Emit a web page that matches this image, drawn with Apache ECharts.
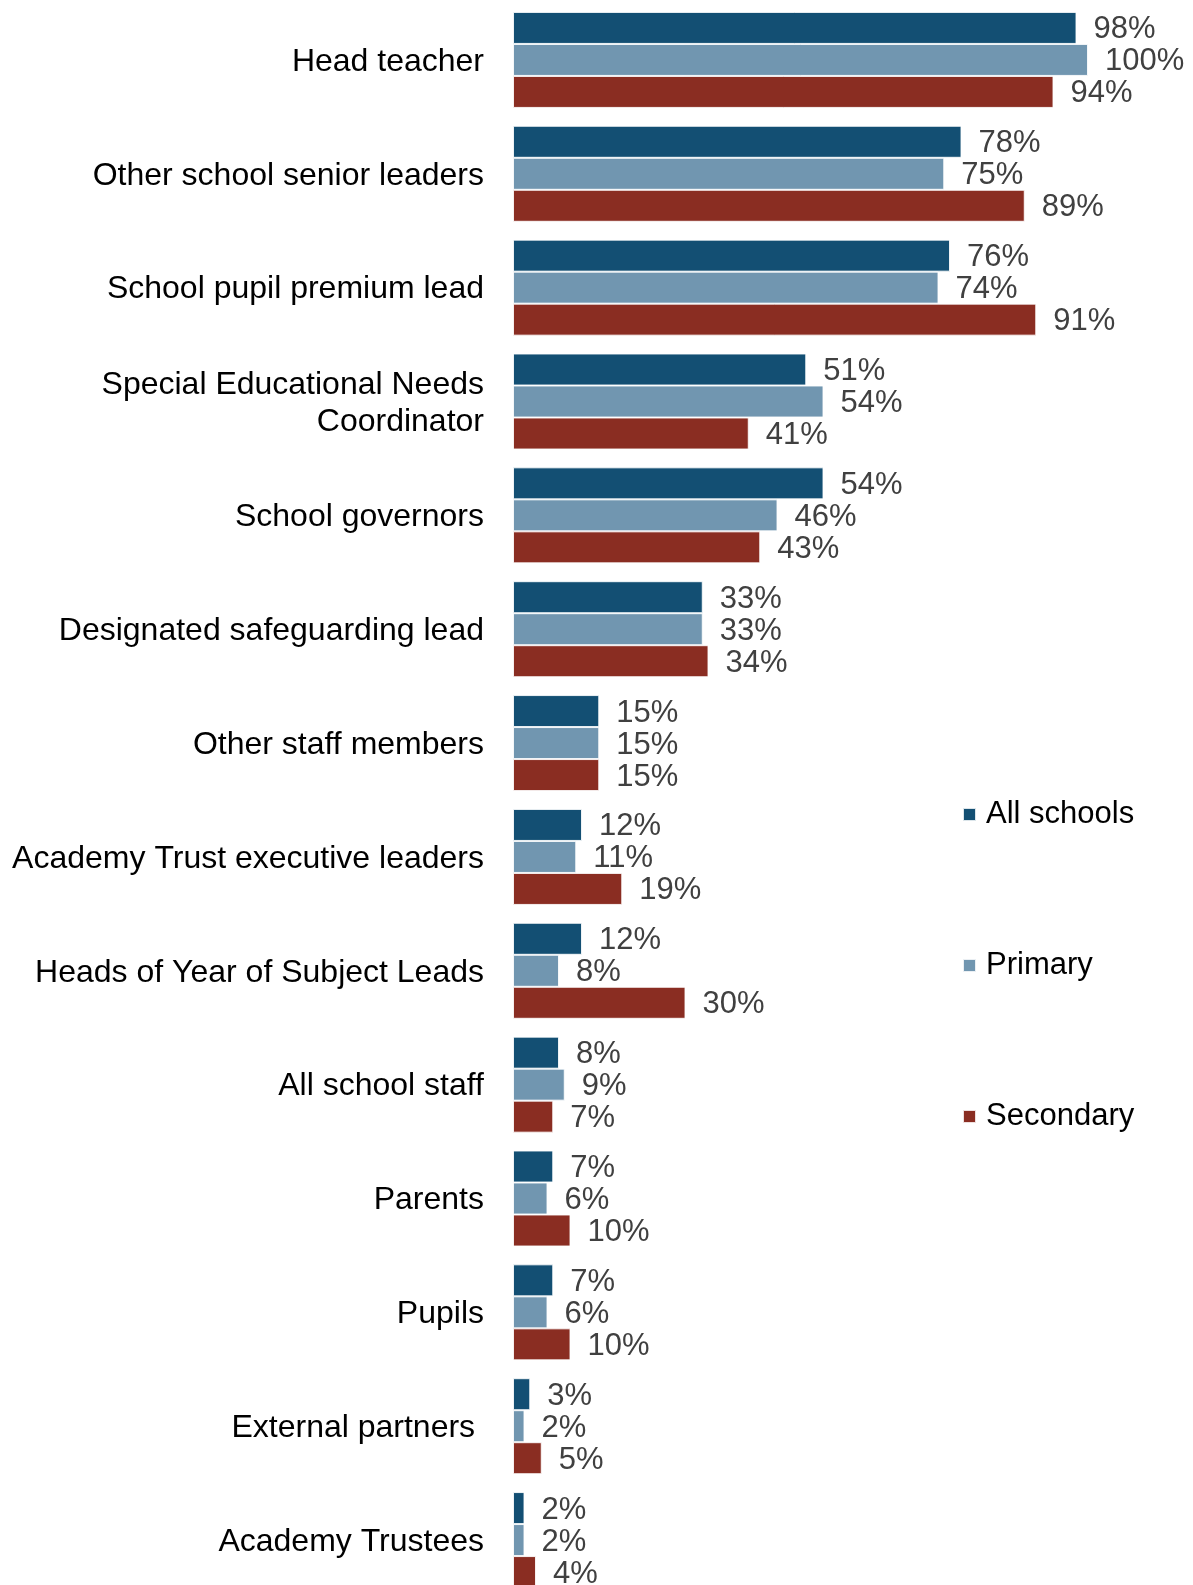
<!DOCTYPE html>
<html>
<head>
<meta charset="utf-8">
<script src="https://cdn.jsdelivr.net/npm/echarts@6/dist/echarts.min.js"></script>
<style>
  html, body { margin: 0; padding: 0; background: #ffffff; overflow: hidden; }
  #chart { width: 1193px; height: 1610px; }
</style>
</head>
<body>
<div id="chart"></div>
<script>
// Who is involved, by role (percent of schools)
const categories = [
  'Head teacher',
  'Other school senior leaders',
  'School pupil premium lead',
  'Special Educational Needs\nCoordinator',
  'School governors',
  'Designated safeguarding lead',
  'Other staff members',
  'Academy Trust executive leaders',
  'Heads of Year of Subject Leads',
  'All school staff',
  'Parents',
  'Pupils',
  'External partners ',
  'Academy Trustees'
];
const allSchools = [98, 78, 76, 51, 54, 33, 15, 12, 12, 8, 7, 7, 3, 2];
const primary    = [100, 75, 74, 54, 46, 33, 15, 11, 8, 9, 6, 6, 2, 2];
const secondary  = [94, 89, 91, 41, 43, 34, 15, 19, 30, 7, 10, 10, 5, 4];
const seriesNames = ['All schools', 'Primary', 'Secondary'];
const colors = ['#134f73', '#7196b0', '#8a2d22'];

const FONT = '"Liberation Sans", Arial, sans-serif';
const FONT_SIZE = 31;

function barSeries(name, data, color) {
  return {
    name: name,
    type: 'bar',
    data: data,
    barWidth: 32,
    barGap: '0%',
    itemStyle: { color: color, borderColor: 'rgba(255,255,255,0.85)', borderWidth: 1 },
    label: {
      show: true,
      position: 'right',
      distance: 17,
      offset: [0, 2],
      formatter: '{c}%',
      fontFamily: FONT,
      fontSize: FONT_SIZE,
      color: '#404040'
    },
    silent: true
  };
}

// the first line gets a little top padding so the label sits on the middle bar
function categoryLabel(value) {
  const lines = value.split('\n');
  if (lines.length === 1) return '{t|' + value + '}';
  return '{v|' + lines[0] + '}' + lines.slice(1).map(l => '\n{u|' + l + '}').join('');
}

const catText = { fontFamily: FONT, fontSize: 32, color: '#000000' };

const chart = echarts.init(document.getElementById('chart'), null, { renderer: 'canvas' });
chart.setOption({
  animation: false,
  backgroundColor: '#ffffff',
  color: colors,
  grid: { left: 513, top: 3, width: 575, height: 1594, containLabel: false },
  legend: {
    orient: 'vertical',
    left: 957,
    top: 794,
    itemWidth: 13,
    itemHeight: 13,
    itemGap: 120,
    icon: 'rect',
    textStyle: { fontFamily: FONT, fontSize: FONT_SIZE, color: '#000000', padding: [0, 0, 0, 5] },
    data: seriesNames
  },
  xAxis: {
    type: 'value',
    min: 0,
    max: 100,
    show: false
  },
  yAxis: {
    type: 'category',
    inverse: true,
    data: categories,
    axisLine: { show: false },
    axisTick: { show: false },
    splitLine: { show: false },
    axisLabel: {
      margin: 29,
      align: 'right',
      formatter: categoryLabel,
      rich: {
        t: Object.assign({ padding: [4, 0, 0, 0], lineHeight: 39 }, catText),
        v: Object.assign({ padding: [5, 0, 0, 0], lineHeight: 41 }, catText),
        u: Object.assign({ lineHeight: 37 }, catText)
      }
    }
  },
  series: [
    barSeries(seriesNames[0], allSchools, colors[0]),
    barSeries(seriesNames[1], primary, colors[1]),
    barSeries(seriesNames[2], secondary, colors[2])
  ]
});
</script>
</body>
</html>
